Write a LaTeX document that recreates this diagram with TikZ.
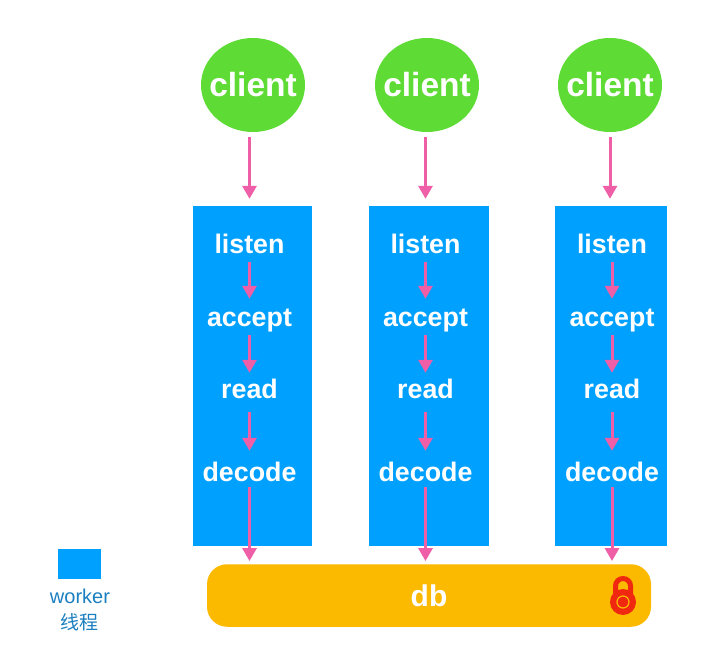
\documentclass[tikz,border=0pt]{standalone}
\usepackage{fontspec}
\setmainfont{Liberation Sans}
\newfontfamily\cjk{Noto Sans CJK SC}
\usetikzlibrary{arrows.meta,shapes.geometric}
\definecolor{clientgreen}{HTML}{5FDB36}
\definecolor{workerblue}{HTML}{00A0FF}
\definecolor{dbyellow}{HTML}{FBB900}
\definecolor{flowpink}{HTML}{EE5FA7}
\definecolor{lockred}{HTML}{F0280F}
\definecolor{legendblue}{HTML}{1A7FC0}
\tikzset{
	client/.style={ellipse,fill=clientgreen,minimum width=104pt,minimum height=94pt,inner sep=-10pt,text=white,font=\fontsize{33.5}{36}\selectfont\bfseries},
	worker/.style={fill=workerblue,minimum height=340pt,inner sep=0pt},
	phase/.style={inner sep=0pt,text=white,text height=20pt,text depth=6pt,font=\fontsize{26.8}{28}\selectfont\bfseries},
	flow/.style={draw=flowpink,line width=3pt,-{Triangle[width=14pt,length=13pt,fill=flowpink]}}
}
\begin{document}
\begin{tikzpicture}[x=1pt,y=-1pt]
	\useasboundingbox (0,0) rectangle (713,658);

	% Workers
	\node[worker,minimum width=119pt] (worker1) at (252.5,376) {};
	\node[worker,minimum width=120pt] (worker2) at (429,376) {};
	\node[worker,minimum width=112pt] (worker3) at (611,376) {};

	% Db
	\node[fill=dbyellow,rounded corners=20pt,minimum width=444pt,minimum height=62.5pt,inner sep=0pt,text=white,font=\fontsize{30}{32}\selectfont\bfseries] (db) at (429,595.5) {db};

	% Lock
	\draw[lockred,line width=5pt] (615.5,601) -- (615.5,586) arc (180:360:7.5) -- (630.5,601);
	\fill[lockred] (623,602) circle (13);
	\draw[dbyellow,line width=1.2pt] (623,602) circle (6);

	% First column
	\node[client] (client1) at (253,85) {client};
	\node[phase] (listen1) at (249.5,247) {listen};
	\node[phase] (accept1) at (249.5,319) {accept};
	\node[phase] (read1) at (249.5,391) {read};
	\node[phase] (decode1) at (249.5,474) {decode};
	\draw[flow,shorten <=5pt,shorten >=7pt] (listen1 |- client1.south) -- (listen1 |- worker1.north);
	\draw[flow,shorten <=2pt,shorten >=7pt] (listen1) ++(0,13) -- (accept1.north);
	\draw[flow,shorten <=3pt,shorten >=5pt] (accept1.south) -- (read1.north);
	\draw[flow,shorten <=8pt,shorten >=10pt] (read1.south) -- (decode1.north);
	\draw[flow,shorten <=0pt,shorten >=3pt] (decode1.south) -- (decode1 |- db.north);

	% Second column
	\node[client] (client2) at (427,85) {client};
	\node[phase] (listen2) at (425.5,247) {listen};
	\node[phase] (accept2) at (425.5,319) {accept};
	\node[phase] (read2) at (425.5,391) {read};
	\node[phase] (decode2) at (425.5,474) {decode};
	\draw[flow,shorten <=5pt,shorten >=7pt] (listen2 |- client2.south) -- (listen2 |- worker2.north);
	\draw[flow,shorten <=2pt,shorten >=7pt] (listen2) ++(0,13) -- (accept2.north);
	\draw[flow,shorten <=3pt,shorten >=5pt] (accept2.south) -- (read2.north);
	\draw[flow,shorten <=8pt,shorten >=10pt] (read2.south) -- (decode2.north);
	\draw[flow,shorten <=0pt,shorten >=3pt] (decode2.south) -- (decode2 |- db.north);

	% Third column
	\node[client] (client3) at (610,85) {client};
	\node[phase] (listen3) at (612,247) {listen};
	\node[phase] (accept3) at (612,319) {accept};
	\node[phase] (read3) at (612,391) {read};
	\node[phase] (decode3) at (612,474) {decode};
	\draw[flow,shorten <=5pt,shorten >=7pt] (client3.south) -- (client3 |- worker3.north);
	\draw[flow,shorten <=2pt,shorten >=7pt] (listen3) ++(0,13) -- (accept3.north);
	\draw[flow,shorten <=3pt,shorten >=5pt] (accept3.south) -- (read3.north);
	\draw[flow,shorten <=8pt,shorten >=10pt] (read3.south) -- (decode3.north);
	\draw[flow,shorten <=0pt,shorten >=3pt] (decode3.south) -- (decode3 |- db.north);

	% Legend
	\node[fill=workerblue,minimum width=43pt,minimum height=30pt,inner sep=0pt] (legend) at (79.5,564) {};
	\node[text=legendblue,inner sep=0pt,font=\fontsize{20}{22}\selectfont] (legendname) at (80,596) {worker};
	\node[text=legendblue,inner sep=0pt,font=\fontsize{19}{22}\selectfont\cjk] (legendzh) at (79.5,622) {线程};
\end{tikzpicture}
\end{document}
